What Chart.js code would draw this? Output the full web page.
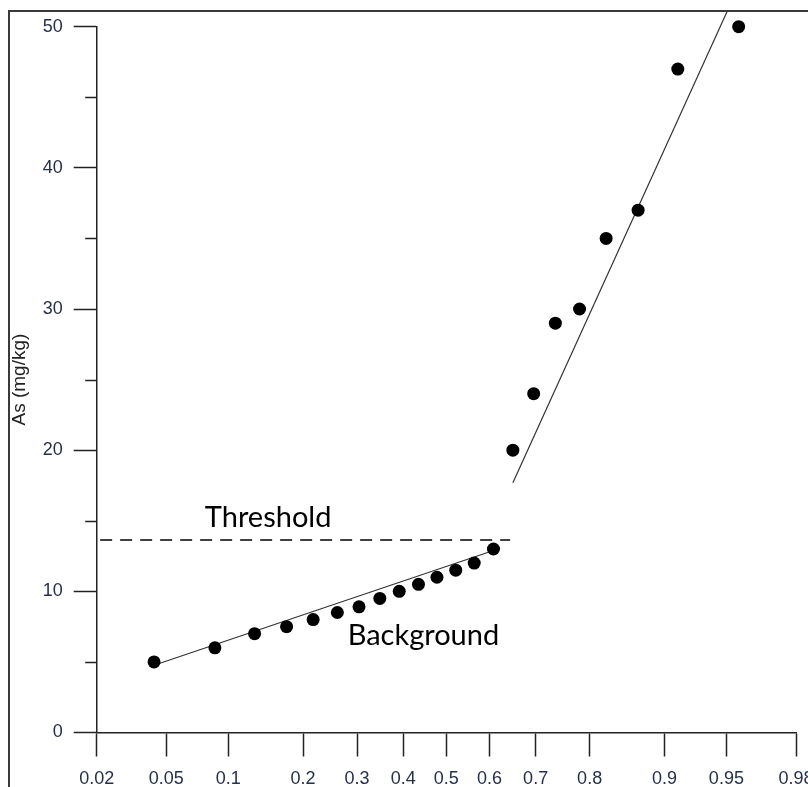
<!DOCTYPE html>
<html>
<head>
<meta charset="utf-8">
<script src="https://cdn.jsdelivr.net/npm/chart.js@4/dist/chart.umd.min.js"></script>
<style>
  html, body { margin: 0; padding: 0; background: #fff; }
  #wrap { position: relative; width: 808px; height: 787px; overflow: hidden; }
  #frame { position: absolute; left: 8px; top: 10px; width: 900px; height: 900px;
           border-left: 2px solid #3a3a3a; border-top: 2px solid #3a3a3a; pointer-events: none; }
  canvas { position: absolute; left: 0; top: 0; }
</style>
</head>
<body>
<div id="wrap">
  <div id="frame"></div>
  <canvas id="c" width="808" height="787"></canvas>
</div>
<script>
// Cumulative probability (plotting position) of each sample and its As content
const cumProb  = [0.043, 0.087, 0.130, 0.174, 0.217, 0.261, 0.304, 0.348, 0.391, 0.435, 0.478,
                  0.522, 0.565, 0.609, 0.652, 0.696, 0.739, 0.783, 0.826, 0.870, 0.913, 0.957];
const asValues = [5, 6, 7, 7.5, 8, 8.5, 8.9, 9.5, 10, 10.5, 11,
                  11.5, 12, 13, 20, 24, 29, 30, 35, 37, 47, 50];

// Fitted lines for the background and the anomalous populations
const lowerFitProb = [0.045, 0.624];
const lowerFitAs   = [4.85, 13.05];
const upperFitProb = [0.652, 0.9505];
const upperFitAs   = [17.7, 51.1];

// Threshold between the two populations
const thresholdProb = [0.021, 0.646];
const thresholdAs   = 13.63;

// Axis ticks
const xTickProbs  = [0.02, 0.05, 0.1, 0.2, 0.3, 0.4, 0.5, 0.6, 0.7, 0.8, 0.9, 0.95, 0.98];
const xTickLabels = ['0.02', '0.05', '0.1', '0.2', '0.3', '0.4', '0.5', '0.6', '0.7', '0.8', '0.9', '0.95', '0.98'];
const yMinorTicks = [5, 15, 25, 35, 45];

// Inverse of the standard normal CDF (Acklam), used for the probability axis
function probit(p) {
  const a = [-3.969683028665376e+01, 2.209460984245205e+02, -2.759285104469687e+02, 1.383577518672690e+02, -3.066479806614716e+01, 2.506628277459239e+00];
  const b = [-5.447609879822406e+01, 1.615858368580409e+02, -1.556989798598866e+02, 6.680131188771972e+01, -1.328068155288572e+01];
  const c = [-7.784894002430293e-03, -3.223964580411365e-01, -2.400758277161838e+00, -2.549732539343734e+00, 4.374664141464968e+00, 2.938163982698783e+00];
  const d = [7.784695709041462e-03, 3.224671290700398e-01, 2.445134137142996e+00, 3.754408661907416e+00];
  const pl = 0.02425, ph = 1 - pl;
  if (p < pl) {
    const q = Math.sqrt(-2 * Math.log(p));
    return (((((c[0]*q+c[1])*q+c[2])*q+c[3])*q+c[4])*q+c[5]) / ((((d[0]*q+d[1])*q+d[2])*q+d[3])*q+1);
  }
  if (p > ph) {
    const q = Math.sqrt(-2 * Math.log(1 - p));
    return -(((((c[0]*q+c[1])*q+c[2])*q+c[3])*q+c[4])*q+c[5]) / ((((d[0]*q+d[1])*q+d[2])*q+d[3])*q+1);
  }
  const q = p - 0.5, r = q * q;
  return (((((a[0]*r+a[1])*r+a[2])*r+a[3])*r+a[4])*r+a[5])*q / (((((b[0]*r+b[1])*r+b[2])*r+b[3])*r+b[4])*r+1);
}

const pts = (probs, vals) => probs.map((p, i) => ({ x: probit(p), y: Array.isArray(vals) ? vals[i] : vals }));

const tickColor = '#222';
const labelColor = '#26304a';

// Minor y ticks and the two text annotations
const extras = {
  id: 'extras',
  afterDraw(chart) {
    const { ctx, chartArea, scales } = chart;
    ctx.save();
    ctx.strokeStyle = tickColor;
    ctx.lineWidth = 1.5;
    yMinorTicks.forEach(v => {
      const y = Math.round(scales.y.getPixelForValue(v)) + 0.5;
      ctx.beginPath();
      ctx.moveTo(chartArea.left - 11.5, y);
      ctx.lineTo(chartArea.left, y);
      ctx.stroke();
    });
    ctx.fillStyle = '#000';
    ctx.font = '29px Lato';
    ctx.textAlign = 'left';
    ctx.textBaseline = 'alphabetic';
    ctx.fillText('Threshold', scales.x.getPixelForValue(probit(0.078)), scales.y.getPixelForValue(14.55));
    ctx.fillText('Background', scales.x.getPixelForValue(probit(0.281)), scales.y.getPixelForValue(6.2));
    ctx.restore();
  }
};

new Chart(document.getElementById('c'), {
  type: 'scatter',
  data: {
    datasets: [
      {
        label: 'Samples',
        data: pts(cumProb, asValues),
        backgroundColor: '#000',
        borderWidth: 0,
        pointRadius: 6.5,
        clip: false
      },
      {
        label: 'Background fit',
        type: 'line',
        data: pts(lowerFitProb, lowerFitAs),
        borderColor: '#333',
        borderWidth: 1.2,
        pointRadius: 0,
        fill: false,
        clip: false
      },
      {
        label: 'Anomaly fit',
        type: 'line',
        data: pts(upperFitProb, upperFitAs),
        borderColor: '#333',
        borderWidth: 1.2,
        pointRadius: 0,
        fill: false,
        clip: false
      },
      {
        label: 'Threshold',
        type: 'line',
        data: pts(thresholdProb, thresholdAs),
        borderColor: '#000',
        borderWidth: 1.5,
        borderDash: [12, 8],
        pointRadius: 0,
        fill: false,
        clip: false
      }
    ]
  },
  options: {
    responsive: false,
    animation: false,
    devicePixelRatio: 1,
    layout: { padding: { left: 0, right: 12, top: 26.7, bottom: 0 } },
    plugins: { legend: { display: false }, tooltip: { enabled: false } },
    scales: {
      x: {
        type: 'linear',
        min: probit(xTickProbs[0]),
        max: probit(xTickProbs[xTickProbs.length - 1]),
        afterBuildTicks: scale => { scale.ticks = xTickProbs.map(p => ({ value: probit(p) })); },
        afterFit: scale => { scale.height = 54.5; scale.paddingLeft = 0; scale.paddingRight = 0; },
        grid: { drawOnChartArea: false, tickLength: 24, tickColor: tickColor, tickWidth: 1.5 },
        border: { color: tickColor, width: 1.5 },
        ticks: {
          autoSkip: false,
          maxRotation: 0,
          padding: 12,
          color: labelColor,
          font: { family: 'Liberation Sans', size: 18 },
          callback: (v, i) => xTickLabels[i]
        }
      },
      y: {
        min: 0,
        max: 50,
        afterFit: scale => { scale.width = 96.7; scale.paddingTop = 0; scale.paddingBottom = 0; },
        grid: { drawOnChartArea: false, tickLength: 23, tickColor: tickColor, tickWidth: 1.5 },
        border: { color: tickColor, width: 1.5 },
        ticks: {
          stepSize: 10,
          padding: 11,
          color: labelColor,
          font: { family: 'Liberation Sans', size: 18 }
        },
        title: {
          display: true,
          text: 'As (mg/kg)',
          color: '#222',
          padding: { top: 8, bottom: 0 },
          font: { family: 'Liberation Sans', size: 19 }
        }
      }
    }
  },
  plugins: [extras]
});
</script>
</body>
</html>
